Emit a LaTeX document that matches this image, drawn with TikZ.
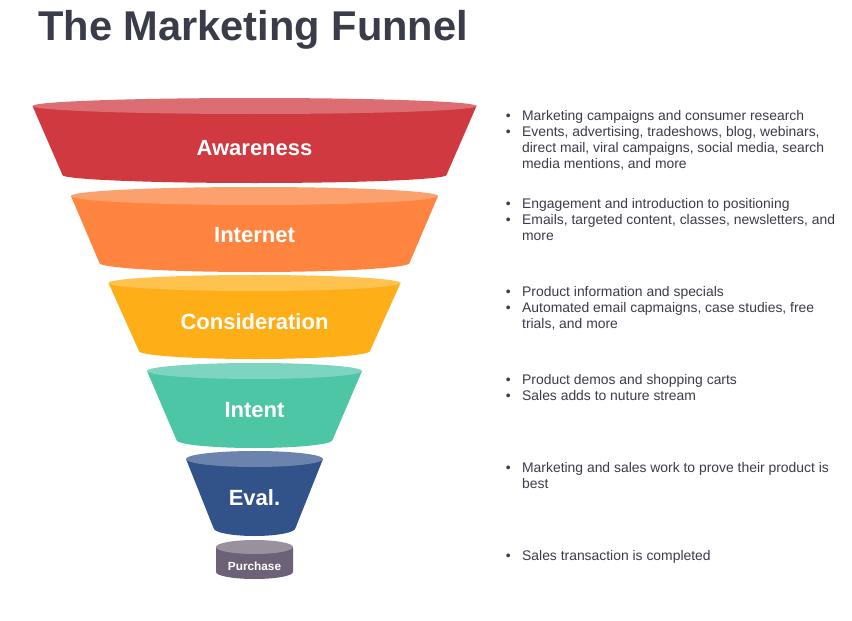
\documentclass[tikz,border=0pt]{standalone}
\usepackage{fontspec}
\setmainfont{Liberation Sans}
\definecolor{txt}{HTML}{3B3C4A}
\definecolor{rA}{HTML}{D0393F}\definecolor{rAt}{HTML}{DC6E73}
\definecolor{oB}{HTML}{FE843F}\definecolor{oBt}{HTML}{FCA16E}
\definecolor{yC}{HTML}{FEAE17}\definecolor{yCt}{HTML}{FFC24F}
\definecolor{gD}{HTML}{4DC6A6}\definecolor{gDt}{HTML}{7ED5BF}
\definecolor{bE}{HTML}{31538A}\definecolor{bEt}{HTML}{6A84AE}
\definecolor{pF}{HTML}{6C6177}\definecolor{pFt}{HTML}{9A919F}
\newcommand{\seg}[8]{% cx, top y, top rx, bottom y, bottom rx, ry, body, top
  \fill[#7] ({#1-#3},{-#2}) -- ({#1-#5},{-#4}) arc[start angle=180,end angle=360,x radius=#5,y radius=#6] -- ({#1+#3},{-#2}) -- cycle;
  \fill[#8] (#1,{-#2}) ellipse[x radius=#3,y radius=#6];
}
\tikzset{
  lbl/.style={text=white,font=\bfseries\fontsize{22}{24}\selectfont,inner sep=0pt},
  bul/.style={text=txt,font=\fontsize{13.9}{16}\selectfont,inner sep=0pt,anchor=base west},
}
\newcommand{\blt}{\textbullet}
\begin{document}
\begin{tikzpicture}[x=1pt,y=1pt]
\useasboundingbox[fill=white] (0,0) rectangle (852,-621);
\node[anchor=base west,inner sep=0pt,text=txt,font=\bfseries\fontsize{41.6}{44}\selectfont] (title) at (38,-40) {The Marketing Funnel};
\seg{254.5}{106}{222}{175}{192}{8}{rA}{rAt}
\seg{254.5}{196}{183.5}{263}{155}{9}{oB}{oBt}
\seg{254.5}{283}{146}{351}{115.5}{8}{yC}{yCt}
\seg{254.5}{371}{107.5}{440}{78}{8}{gD}{gDt}
\seg{254.5}{459}{68.5}{528}{41}{8}{bE}{bEt}
\seg{254.5}{547}{38.5}{572}{38.5}{7}{pF}{pFt}
\node[lbl] (aw) at (254.5,-148) {Awareness};
\node[lbl] (in) at (254.5,-235) {Internet};
\node[lbl] (co) at (254.5,-322) {Consideration};
\node[lbl] (it) at (254.5,-410) {Intent};
\node[lbl] (ev) at (254.5,-498) {Eval.};
\node[lbl,font=\bfseries\fontsize{11.8}{13}\selectfont] (pu) at (254.5,-566) {Purchase};
\node[bul] (t1) at (505.7,-120) {\begin{tabular}[t]{@{}l@{\hspace{11.4pt}}l@{}}
\blt & Marketing campaigns and consumer research\\
\blt & Events, advertising, tradeshows, blog, webinars,\\
 & direct mail, viral campaigns, social media, search\\
 & media mentions, and more\end{tabular}};
\node[bul] (t2) at (505.7,-208) {\begin{tabular}[t]{@{}l@{\hspace{11.4pt}}l@{}}
\blt & Engagement and introduction to positioning\\
\blt & Emails, targeted content, classes, newsletters, and\\
 & more\end{tabular}};
\node[bul] (t3) at (505.7,-296) {\begin{tabular}[t]{@{}l@{\hspace{11.4pt}}l@{}}
\blt & Product information and specials\\
\blt & Automated email capmaigns, case studies, free\\
 & trials, and more\end{tabular}};
\node[bul] (t4) at (505.7,-384) {\begin{tabular}[t]{@{}l@{\hspace{11.4pt}}l@{}}
\blt & Product demos and shopping carts\\
\blt & Sales adds to nuture stream\end{tabular}};
\node[bul] (t5) at (505.7,-472) {\begin{tabular}[t]{@{}l@{\hspace{11.4pt}}l@{}}
\blt & Marketing and sales work to prove their product is\\
 & best\end{tabular}};
\node[bul] (t6) at (505.7,-560) {\begin{tabular}[t]{@{}l@{\hspace{11.4pt}}l@{}}
\blt & Sales transaction is completed\end{tabular}};
\end{tikzpicture}
\end{document}
